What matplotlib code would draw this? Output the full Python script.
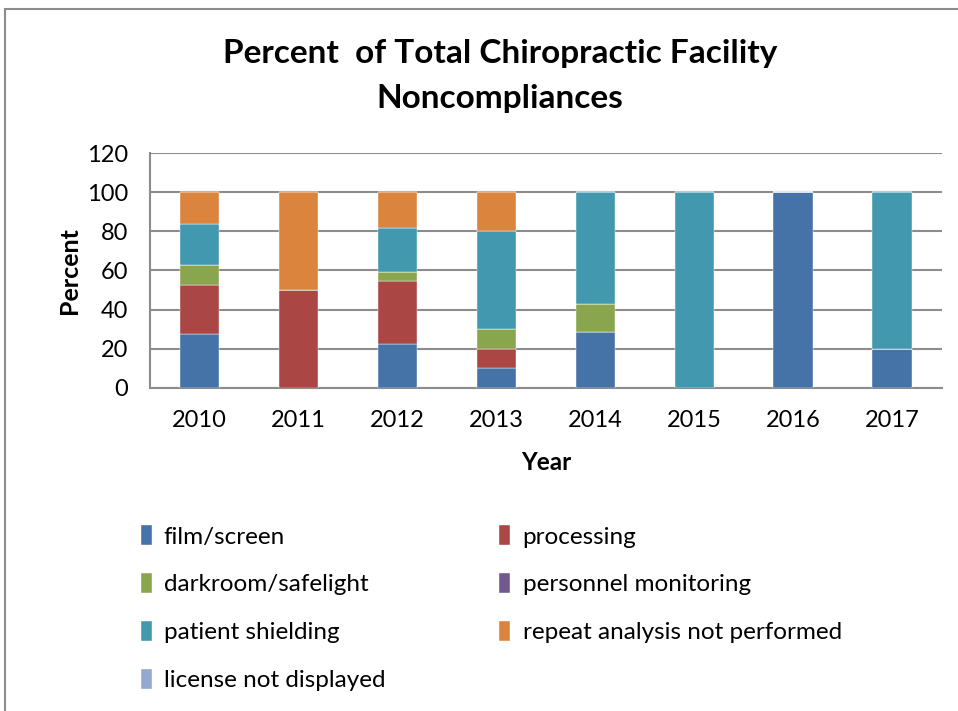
import matplotlib.pyplot as plt
import numpy as np
from matplotlib.patches import Rectangle

plt.rcParams['font.family'] = ['Lato', 'DejaVu Sans']

years = ['2010', '2011', '2012', '2013', '2014', '2015', '2016', '2017']

film_screen = [27.8, 0, 22.7, 10, 28.6, 0, 100, 20]
processing = [25.0, 50, 31.8, 10, 0, 0, 0, 0]
darkroom = [10.2, 0, 4.6, 10, 14.3, 0, 0, 0]
personnel = [0, 0, 0, 0, 0, 0, 0, 0]
patient_shielding = [20.6, 0, 22.7, 50, 57.1, 100, 0, 80]
repeat_analysis = [16.4, 50, 18.2, 20, 0, 0, 0, 0]
license_display = [0, 0, 0, 0, 0, 0, 0, 0]

series = [
    ('film/screen', film_screen, '#4572A7'),
    ('processing', processing, '#AA4643'),
    ('darkroom/safelight', darkroom, '#89A54E'),
    ('personnel monitoring', personnel, '#71588F'),
    ('patient shielding', patient_shielding, '#4198AF'),
    ('repeat analysis not performed', repeat_analysis, '#DB843D'),
    ('license not displayed', license_display, '#93A9CF'),
]

fig = plt.figure(figsize=(9.58, 7.11), dpi=100)
ax = fig.add_axes([0.1566, 0.4543, 0.8264, 0.3305])

x = np.arange(len(years))
bottom = np.zeros(len(years))
bars = {}
for name, vals, col in series:
    vals = np.array(vals, dtype=float)
    bars[name] = ax.bar(x, vals, 0.4, bottom=bottom, color=col, label=name,
                        edgecolor='white', linewidth=0.3, zorder=3)
    bottom += vals

ax.set_xlim(-0.5, len(years) - 0.5)
ax.set_ylim(0, 120)
ax.set_yticks(np.arange(0, 121, 20))
ax.set_xticks(x)
ax.set_xticklabels(years)
ax.tick_params(axis='both', length=0, labelsize=17, colors='black')
ax.tick_params(axis='x', pad=16)
ax.tick_params(axis='y', pad=16)
ax.yaxis.grid(True, color='#8c8c8c', linewidth=1.5, zorder=0)
for s in ['top', 'right']:
    ax.spines[s].set_visible(False)
ax.spines['left'].set_color('#8c8c8c')
ax.spines['bottom'].set_color('#8c8c8c')
ax.spines['left'].set_linewidth(1.5)
ax.spines['bottom'].set_linewidth(1.5)

ax.set_xlabel('Year', fontsize=17.5, fontweight='bold', labelpad=14)
ax.set_ylabel('Percent', fontsize=18, fontweight='bold', labelpad=4)

fig.text(0.522, 0.925, 'Percent  of Total Chiropractic Facility', ha='center',
         va='center', fontsize=24, fontweight='bold')
fig.text(0.522, 0.862, 'Noncompliances', ha='center', va='center',
         fontsize=24, fontweight='bold')

order = ['film/screen', 'darkroom/safelight', 'patient shielding',
         'license not displayed', 'processing', 'personnel monitoring',
         'repeat analysis not performed']
handles = [bars[n] for n in order]
fig.legend(handles, order, ncol=2, loc='upper left',
           bbox_to_anchor=(0.124, 0.292), frameon=False, fontsize=17.5,
           handlelength=0.45, handleheight=0.9, handletextpad=0.5,
           columnspacing=4.7, labelspacing=1.04)

fig.add_artist(Rectangle((0.005, -0.1), 1.2, 1.087, transform=fig.transFigure,
                         fill=False, edgecolor='#8c8c8c', linewidth=1.5))

fig.savefig('out.png', dpi=100)
